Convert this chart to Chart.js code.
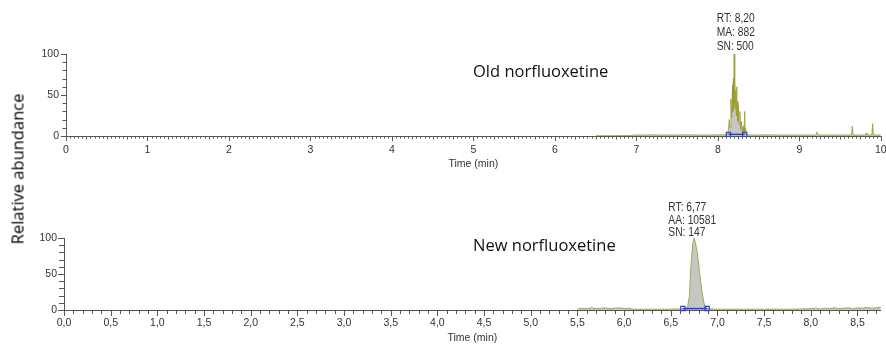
<!DOCTYPE html>
<html>
<head>
<meta charset="utf-8">
<script src="https://cdn.jsdelivr.net/npm/chart.js@4"></script>
<style>
  body { margin: 0; background: #fff; width: 886px; height: 345px; overflow: hidden; position: relative; }
  canvas { position: absolute; left: 0; }
  #c1 { top: 0; }
  #c2 { top: 179px; }
  #ytitle {
    position: absolute; left: 17px; top: 169px;
    transform: translate(-50%, -50%) rotate(-90deg);
    font: 16.5px "Open Sans", sans-serif; color: #000; white-space: nowrap;
  }
</style>
</head>
<body>
<canvas id="c1" width="886" height="172"></canvas>
<canvas id="c2" width="886" height="166"></canvas>
<div id="ytitle">Relative abundance</div>
<script>
// Old norfluoxetine trace (time in min, relative abundance %)
const topTime = [6.5, 6.6, 6.7, 6.8, 6.9, 7.0, 7.1, 7.2, 7.3, 7.4, 7.5, 7.6, 7.7, 7.8, 7.9, 8.0, 8.1,
  8.12, 8.13, 8.14, 8.15, 8.16, 8.17, 8.18, 8.185, 8.19, 8.195, 8.2, 8.205, 8.21, 8.215, 8.22, 8.225,
  8.23, 8.235, 8.24, 8.245, 8.25, 8.26, 8.27, 8.28, 8.29, 8.3, 8.31, 8.32, 8.33, 8.335, 8.34, 8.35, 8.37,
  8.4, 8.5, 8.6, 8.7, 8.8, 8.9, 9.0, 9.1, 9.2, 9.22, 9.23, 9.3, 9.4, 9.5, 9.6, 9.64, 9.65, 9.66, 9.7,
  9.8, 9.81, 9.82, 9.83, 9.87, 9.89, 9.9, 9.91, 9.95, 10.0];
const topAbundance = [0.3, 0.4, 0.3, 0.5, 0.6, 1.3, 1.2, 1.4, 1.2, 1.3, 1.2, 1.4, 1.3, 1.2, 1.3, 1.4, 1.5,
  2, 8, 20, 10, 45, 22, 62, 30, 70, 35, 100, 40, 68, 33, 55, 28,
  60, 25, 42, 18, 38, 14, 30, 8, 18, 5, 12, 3, 30, 4, 10, 1.5, 1.2,
  1.3, 1.2, 1.4, 1.3, 1.2, 1.3, 1.2, 1.3, 1.2, 5, 1.3, 1.2, 1.3, 1.2, 1.3, 1.2, 12, 1.3, 1.2,
  1.3, 1.2, 3.5, 1.3, 1.2, 1.3, 15, 1.3, 1.2, 1.3];
const topMarks = [8.13, 8.33];
const topPeak = ["RT: 8,20", "MA: 882", "SN: 500"];

// New norfluoxetine trace
const bottomTime = [5.5, 5.55, 5.6, 5.65, 5.7, 5.75, 5.8, 5.85, 5.9, 5.95, 6.0, 6.05, 6.1, 6.2, 6.3, 6.4,
  6.5, 6.6, 6.64, 6.66, 6.68, 6.7, 6.715, 6.735, 6.75, 6.765, 6.775, 6.785, 6.795, 6.815, 6.835, 6.855, 6.875,
  6.9, 6.95, 7.0, 7.1, 7.2, 7.3, 7.4, 7.5, 7.6, 7.7, 7.8, 7.9, 8.0, 8.05, 8.1, 8.15, 8.2, 8.25, 8.3,
  8.35, 8.4, 8.45, 8.5, 8.55, 8.6, 8.65, 8.7, 8.75, 8.8, 8.85];
const bottomAbundance = [1.5, 2.5, 2, 3, 2, 2.5, 3, 2, 2.5, 3, 2, 2.5, 1, 1, 1.2, 1,
  1.2, 1.5, 2, 2, 4, 20, 60, 92, 100, 93, 86, 80, 68, 46, 26, 10, 3,
  1.5, 1.5, 1.2, 1, 1.2, 1, 1.2, 1, 1.3, 1, 1.2, 1.5, 2, 2.5, 1.5, 2.5, 2, 3, 2,
  2.5, 3, 2, 3, 2.5, 3.5, 2.5, 3, 4, 3, 4];
const bottomMarks = [6.63, 6.89];
const bottomPeak = ["RT: 6,77", "AA: 10581", "SN: 147"];

const sans = '"Liberation Sans", Arial, sans-serif';

const near = (v, step) => Math.abs(v / step - Math.round(v / step)) < 1e-6;

// small tick marks drawn from the scales' own ticks
const tickMarks = {
  id: 'tickMarks',
  afterDraw(chart, args, o) {
    const ctx = chart.ctx, xs = chart.scales.x, ys = chart.scales.y;
    ctx.save();
    ctx.strokeStyle = '#555';
    ctx.lineWidth = 1;
    ctx.beginPath();
    xs.ticks.forEach(t => {
      const px = Math.round(xs.getPixelForValue(t.value)) + 0.5;
      const len = near(t.value, o.xMajor) ? o.major : (o.xMid && near(t.value, o.xMid)) ? o.mid : o.minor;
      ctx.moveTo(px, xs.top);
      ctx.lineTo(px, xs.top + len);
    });
    ys.ticks.forEach(t => {
      const py = Math.round(ys.getPixelForValue(t.value)) + 0.5;
      const len = near(t.value, 50) ? o.major : o.minor + 1;
      ctx.moveTo(ys.right, py);
      ctx.lineTo(ys.right - len, py);
    });
    ctx.stroke();
    ctx.restore();
  }
};

// big caption + peak info (narrowed like the instrument font)
const notes = {
  id: 'notes',
  afterDraw(chart, args, o) {
    const ctx = chart.ctx;
    ctx.save();
    ctx.fillStyle = '#111';
    ctx.textBaseline = 'alphabetic';
    ctx.font = '16.5px "Open Sans", sans-serif';
    ctx.fillText(o.title, o.titleX, o.titleY);
    ctx.fillStyle = '#333';
    ctx.font = '12.5px ' + sans;
    ctx.textBaseline = 'middle';
    const sx = 0.82;
    const w = Math.max(...o.peak.map(s => ctx.measureText(s).width)) * sx;
    const px = chart.scales.x.getPixelForValue(o.peakAt) - w / 2;
    ctx.scale(sx, 1);
    o.peak.forEach((s, i) => ctx.fillText(s, px / sx, o.peakY + i * o.gap));
    ctx.restore();
  }
};

function makeChart(id, c) {
  return new Chart(document.getElementById(id), {
    type: 'line',
    data: {
      datasets: [
        {
          data: c.marks.map(t => ({ x: t, y: 2 })),
          borderColor: '#2a3fd8', borderWidth: 1.5,
          pointStyle: 'rect', pointRadius: 3, pointBorderColor: '#2a3fd8',
          pointBackgroundColor: 'rgba(0,0,0,0)', pointBorderWidth: 1.2,
          fill: false, clip: false, order: 0
        },
        {
          data: c.time.map((t, i) => ({ x: t, y: c.values[i] })),
          borderColor: '#9c9c2c', borderWidth: 0.8,
          backgroundColor: '#c6c6c6', fill: 'origin',
          pointRadius: 0, tension: 0, order: 1
        }
      ]
    },
    options: {
      responsive: false,
      animation: false,
      layout: { padding: { top: c.top, right: c.right, left: 0, bottom: 0 } },
      plugins: {
        legend: { display: false },
        tooltip: { enabled: false },
        tickMarks: c.ticks,
        notes: c.notes
      },
      scales: {
        x: {
          type: 'linear', min: 0, max: c.xMax,
          grid: { display: false, drawTicks: false },
          border: { display: true, color: '#555', width: 1 },
          afterFit: s => { s.height = c.xHeight; s.paddingRight = 0; s.paddingLeft = 0; },
          ticks: {
            stepSize: c.xStep, autoSkip: false, maxRotation: 0, includeBounds: false,
            padding: c.labelPad, color: '#333', font: { family: sans, size: 10.5 },
            callback: c.xLabel
          },
          title: {
            display: true, text: 'Time (min)', color: '#333',
            font: { family: sans, size: 10.5 }, padding: { top: 0, bottom: c.titlePad }
          }
        },
        y: {
          min: 0, max: 100,
          grid: { display: false, drawTicks: false },
          border: { display: true, color: '#555', width: 1 },
          afterFit: s => { s.width = c.yWidth; },
          ticks: {
            stepSize: 10, autoSkip: false, includeBounds: false,
            padding: 7, color: '#333', font: { family: sans, size: 10.5 },
            callback: v => near(v, 50) ? String(v) : ''
          }
        }
      }
    },
    plugins: [tickMarks, notes]
  });
}

makeChart('c1', {
  time: topTime, values: topAbundance, marks: topMarks,
  top: 54, right: 4, xMax: 10, xHeight: 36, yWidth: 66, xStep: 0.05, labelPad: 8, titlePad: 2,
  xLabel: v => near(v, 1) ? String(Math.round(v)) : '',
  ticks: { xMajor: 1, xMid: 0.25, major: 5, mid: 3.5, minor: 2.5 },
  notes: { title: 'Old norfluoxetine', titleX: 473, titleY: 77, peak: topPeak, peakAt: 8.22, peakY: 18.5, gap: 14 }
});

makeChart('c2', {
  time: bottomTime, values: bottomAbundance, marks: bottomMarks,
  top: 59, right: 0, xMax: 8.75, xHeight: 35, yWidth: 64, xStep: 0.1, labelPad: 7, titlePad: 1,
  xLabel: v => near(v, 0.5) ? v.toFixed(1).replace('.', ',') : '',
  ticks: { xMajor: 0.5, xMid: 0, major: 6, mid: 4, minor: 4 },
  notes: { title: 'New norfluoxetine', titleX: 473, titleY: 72, peak: bottomPeak, peakAt: 6.73, peakY: 29, gap: 12.5 }
});
</script>
</body>
</html>
